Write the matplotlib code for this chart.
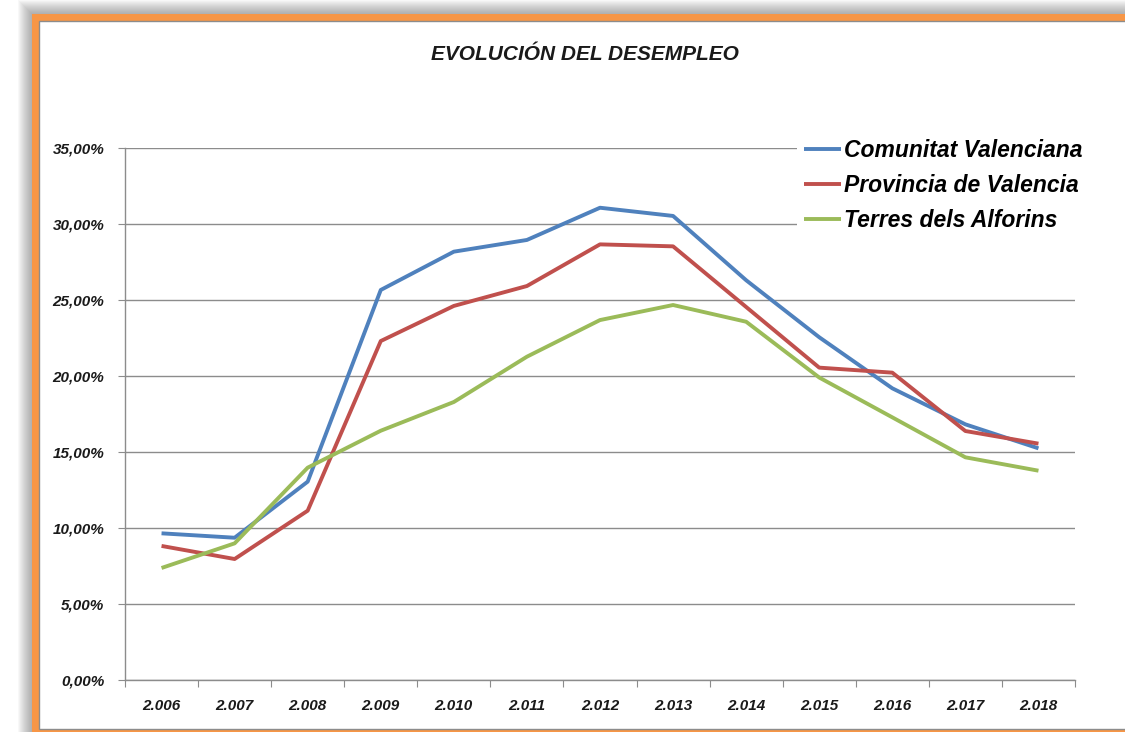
import matplotlib
matplotlib.use("Agg")
import matplotlib.pyplot as plt
from matplotlib.patches import Rectangle
from matplotlib.ticker import FixedLocator, FuncFormatter, NullFormatter

# Unemployment rate (%) by year
years = ["2.006", "2.007", "2.008", "2.009", "2.010", "2.011", "2.012",
         "2.013", "2.014", "2.015", "2.016", "2.017", "2.018"]
comunitat_valenciana = [9.65, 9.36, 13.05, 25.66, 28.18, 28.95, 31.07,
                        30.53, 26.30, 22.55, 19.19, 16.82, 15.24]
provincia_valencia = [8.82, 7.96, 11.14, 22.30, 24.61, 25.92, 28.66,
                      28.53, 24.54, 20.55, 20.22, 16.38, 15.55]
terres_alforins = [7.37, 8.99, 13.97, 16.40, 18.29, 21.27, 23.68,
                   24.67, 23.57, 19.90, 17.28, 14.65, 13.77]
series_names = ["Comunitat Valenciana", "Provincia de Valencia",
                "Terres dels Alforins"]
series_colors = ["#4F81BD", "#C0504D", "#9BBB59"]
y_ticks = [0, 5, 10, 15, 20, 25, 30, 35]

W, H = 1125, 732
DPI = 100
FONT = ["Liberation Sans", "DejaVu Sans"]
plt.rcParams["font.family"] = FONT

fig = plt.figure(figsize=(W / DPI, H / DPI), dpi=DPI)
fig.patch.set_facecolor("white")


def px_rect(x0, y0, x1, y1, **kw):
    """Rectangle given in pixel coordinates measured from the top-left."""
    return Rectangle((x0 / W, 1 - y1 / H), (x1 - x0) / W, (y1 - y0) / H,
                     transform=fig.transFigure, **kw)


# soft drop shadow around the frame
for i in range(14, 0, -1):
    fig.patches.append(px_rect(32 - i, 14 - i, 1200, 800,
                               facecolor="#606060", edgecolor="none",
                               alpha=0.045, zorder=0))
# orange frame
fig.patches.append(px_rect(32, 14, 1200, 800, facecolor="#F79646",
                           edgecolor="none", zorder=1))
# white chart area with thin grey border
fig.patches.append(px_rect(38.5, 20.5, 1190, 728.5, facecolor="white",
                           edgecolor="#8C8C8C", linewidth=1.0, zorder=2))

# plot area
left, right, top, bottom = 125, 1075, 148, 680
ax = fig.add_axes([left / W, 1 - bottom / H, (right - left) / W,
                   (bottom - top) / H])
ax.set_facecolor("none")
ax.set_zorder(3)

x = list(range(len(years)))
for vals, name, col in zip([comunitat_valenciana, provincia_valencia,
                            terres_alforins], series_names, series_colors):
    ax.plot(x, vals, color=col, linewidth=2.8, label=name,
            solid_joinstyle="round", solid_capstyle="butt", zorder=3)

ax.set_xlim(-0.5, len(years) - 0.5)
ax.set_ylim(0, 35)

ax.yaxis.set_major_locator(FixedLocator(y_ticks))
ax.yaxis.set_major_formatter(
    FuncFormatter(lambda v, p: f"{v:.2f}%".replace(".", ",")))
ax.grid(axis="y", color="#8C8C8C", linewidth=1.0, zorder=1)
ax.set_axisbelow(True)

# category ticks sit on the boundaries, labels at the centres
ax.xaxis.set_major_locator(FixedLocator([i - 0.5 for i in range(len(years) + 1)]))
ax.xaxis.set_major_formatter(NullFormatter())
ax.xaxis.set_minor_locator(FixedLocator(x))
ax.set_xticklabels(years, minor=True)
ax.tick_params(axis="x", which="minor", length=0, pad=14)
ax.tick_params(axis="x", which="major", length=5, color="#8C8C8C",
               direction="out")
ax.tick_params(axis="y", length=5, color="#8C8C8C", direction="out", pad=10)

for lab in ax.get_xticklabels(minor=True) + ax.get_yticklabels():
    lab.set_fontsize(11)
    lab.set_fontweight("bold")
    lab.set_fontstyle("italic")
    lab.set_color("#1a1a1a")

for s in ["top", "right"]:
    ax.spines[s].set_visible(False)
for s in ["left", "bottom"]:
    ax.spines[s].set_color("#8C8C8C")
    ax.spines[s].set_linewidth(1.0)

leg = ax.legend(loc="upper left", bbox_to_anchor=(0.6958, 1.051),
                frameon=True, facecolor="white", edgecolor="none",
                framealpha=1.0, fancybox=False, handlelength=1.6,
                handletextpad=0.12, labelspacing=0.51, borderpad=0.3,
                prop={"family": FONT, "weight": "bold", "style": "italic",
                      "size": 16.5})
for line in leg.get_lines():
    line.set_linewidth(2.8)

fig.text(0.52, 1 - 54 / H, "EVOLUCIÓN DEL DESEMPLEO", ha="center",
         va="center", fontsize=15, fontweight="bold", fontstyle="italic",
         color="#1a1a1a", zorder=5)

fig.savefig("out.png", dpi=DPI)
